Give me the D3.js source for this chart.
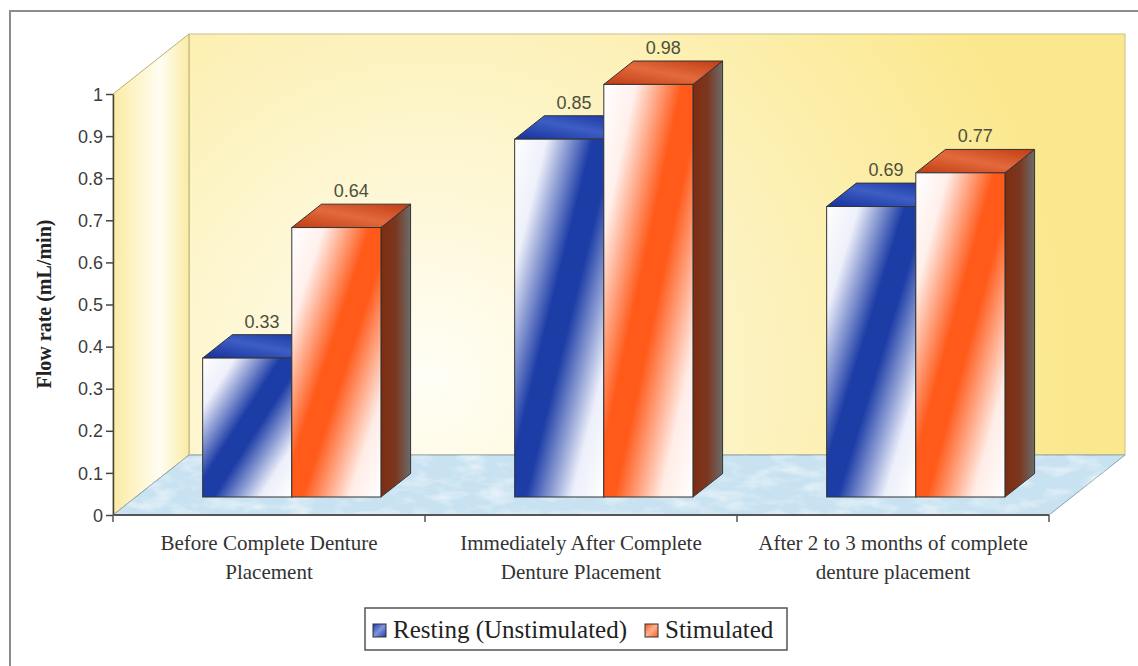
<!DOCTYPE html>
<html>
<head>
<meta charset="utf-8">
<script src="https://cdn.jsdelivr.net/npm/d3@7"></script>
<style>
  html, body { margin: 0; padding: 0; background: #ffffff; }
  svg { display: block; }
</style>
</head>
<body>
<svg id="chart" width="1138" height="666"></svg>
<script>
// Salivary flow rate by stage of complete denture wear
const categories = [
  ["Before Complete Denture", "Placement"],
  ["Immediately After Complete", "Denture Placement"],
  ["After 2 to 3 months of complete", "denture placement"]
];
const seriesNames = ["Resting (Unstimulated)", "Stimulated"];
const resting    = [0.33, 0.85, 0.69];
const stimulated = [0.64, 0.98, 0.77];
const yTicks = [0, 0.1, 0.2, 0.3, 0.4, 0.5, 0.6, 0.7, 0.8, 0.9, 1];
const yTitle = "Flow rate (mL/min)";

const svg = d3.select("#chart");
const defs = svg.append("defs");

// plot frame (front plane) and 3D depth vector
const plotLeft = 113, plotRight = 1049, plotTop = 94, plotBottom = 515;
const depth = { dx: 76, dy: -60 };
const barDepth0 = 0.30, barDepth1 = 0.69;

const x0 = d3.scaleBand().domain(d3.range(categories.length)).range([plotLeft, plotRight]).padding(0);
const barW = x0.bandwidth() / 3.5; // gap width 150%
const x1 = d3.scaleBand().domain(seriesNames).range([0.75 * barW, 2.75 * barW]).padding(0);
const y = d3.scaleLinear().domain([0, 1]).range([plotBottom, plotTop]);

// ---------- gradients ----------
function linGrad(id, stops, attrs) {
  const g = defs.append("linearGradient").attr("id", id);
  Object.entries(attrs).forEach(([k, v]) => g.attr(k, v));
  stops.forEach(([o, c]) => g.append("stop").attr("offset", o).attr("stop-color", c));
}
linGrad("frontBlue", [[0, "#ffffff"], [0.18, "#eef0fa"], [0.44, "#1c3ca6"], [0.56, "#1c3ca6"], [0.82, "#eceffa"], [1, "#ffffff"]],
  { x1: 0, y1: 0, x2: 1, y2: 1 });
linGrad("frontRed", [[0, "#ffffff"], [0.18, "#fff0ec"], [0.44, "#ff5a1a"], [0.56, "#ff5a1a"], [0.82, "#ffece6"], [1, "#ffffff"]],
  { x1: 0, y1: 0, x2: 1, y2: 1 });
linGrad("topBlue", [[0, "#15309a"], [0.5, "#3d5ec4"], [1, "#15309a"]], { x1: 0, y1: 1, x2: 1, y2: 0 });
linGrad("topRed", [[0, "#c03c12"], [0.5, "#e36a3c"], [1, "#c03c12"]], { x1: 0, y1: 1, x2: 1, y2: 0 });
linGrad("sideBlue", [[0, "#12266e"], [1, "#5a5a6a"]], { x1: 0, y1: 0, x2: 1, y2: 0 });
linGrad("sideRed", [[0, "#7e2c10"], [0.5, "#7a3820"], [1, "#6c6c6c"]], { x1: 0, y1: 0, x2: 1, y2: 0 });
linGrad("sideWall", [[0, "#fbeba4"], [0.62, "#fffdf2"], [1, "#fbeba4"]],
  { gradientUnits: "userSpaceOnUse", x1: plotLeft, y1: 0, x2: plotLeft + depth.dx, y2: 0 });
linGrad("swBlue", [[0, "#1c3ca6"], [0.5, "#7f95dc"], [1, "#1c3ca6"]], { x1: 0, y1: 0, x2: 1, y2: 1 });
linGrad("swRed", [[0, "#ff5a1a"], [0.5, "#ffb090"], [1, "#ff5a1a"]], { x1: 0, y1: 0, x2: 1, y2: 1 });

const rg = defs.append("radialGradient").attr("id", "backWall")
  .attr("gradientUnits", "userSpaceOnUse").attr("cx", 430).attr("cy", 380).attr("r", 640);
[[0, "#fffef6"], [0.45, "#fdf4c6"], [1, "#fbe88e"]]
  .forEach(([o, c]) => rg.append("stop").attr("offset", o).attr("stop-color", c));

const tex = defs.append("filter").attr("id", "floorTex").attr("x", 0).attr("y", 0).attr("width", 1).attr("height", 1);
tex.append("feTurbulence").attr("type", "fractalNoise").attr("baseFrequency", "0.035 0.09").attr("numOctaves", 3).attr("seed", 7);
tex.append("feColorMatrix").attr("type", "matrix")
  .attr("values", "0 0 0 0 1  0 0 0 0 1  0 0 0 0 1  0 0 0 2.2 -0.95");
tex.append("feComposite").attr("in2", "SourceGraphic").attr("operator", "in");

// ---------- outer frame ----------
svg.append("path").attr("d", "M10,666 V11 H1138").attr("fill", "none")
  .attr("stroke", "#8c8c8c").attr("stroke-width", 2);

// ---------- walls & floor ----------
const pts = a => a.map(p => p.join(",")).join(" ");
const bx = plotLeft + depth.dx, byTop = plotTop + depth.dy, byBot = plotBottom + depth.dy;

svg.append("rect").attr("x", bx).attr("y", byTop).attr("width", plotRight - plotLeft).attr("height", plotBottom - plotTop)
  .attr("fill", "url(#backWall)").attr("stroke", "#c9c08a").attr("stroke-width", 1);

svg.append("polygon")
  .attr("points", pts([[plotLeft, plotBottom], [plotLeft, plotTop], [bx, byTop], [bx, byBot]]))
  .attr("fill", "url(#sideWall)").attr("stroke", "#b8af78").attr("stroke-width", 1);

const floorPts = pts([[plotLeft, plotBottom], [plotRight, plotBottom], [plotRight + depth.dx, byBot], [bx, byBot]]);
svg.append("polygon").attr("points", floorPts).attr("fill", "#c8e2f1").attr("stroke", "#8aa0aa").attr("stroke-width", 1);
svg.append("polygon").attr("points", floorPts).attr("fill", "#000").attr("filter", "url(#floorTex)").attr("opacity", 0.55);

// ---------- axes ----------
const yAxis = svg.append("g").attr("transform", `translate(${plotLeft},0)`)
  .call(d3.axisLeft(y).tickValues(yTicks).tickSize(7).tickSizeOuter(0).tickFormat(d3.format("")));
yAxis.select(".domain").attr("stroke", "#444").attr("stroke-width", 1.5);
yAxis.selectAll(".tick line").attr("stroke", "#444").attr("stroke-width", 1.5);
yAxis.selectAll(".tick text").attr("x", -10).attr("dy", "0.34em")
  .attr("font-family", "'Liberation Sans', Arial, sans-serif").attr("font-size", 18).attr("fill", "#3c3c3c");

svg.append("line").attr("x1", plotLeft).attr("x2", plotRight).attr("y1", plotBottom).attr("y2", plotBottom)
  .attr("stroke", "#555").attr("stroke-width", 2);
const catEdges = d3.range(categories.length + 1).map(i => plotLeft + i * x0.step());
svg.selectAll("line.cattick").data(catEdges).join("line").attr("class", "cattick")
  .attr("x1", d => d).attr("x2", d => d).attr("y1", plotBottom).attr("y2", plotBottom + 7)
  .attr("stroke", "#555").attr("stroke-width", 1.5);

// category labels
categories.forEach((lines, i) => {
  const t = svg.append("text").attr("text-anchor", "middle")
    .attr("font-family", "'Liberation Serif', 'Times New Roman', serif").attr("font-size", 21).attr("fill", "#333");
  lines.forEach((ln, k) => t.append("tspan").attr("x", x0(i) + x0.bandwidth() / 2).attr("y", 550 + k * 29).text(ln));
});

// y title
svg.append("text").attr("transform", "translate(51,304) rotate(-90)").attr("text-anchor", "middle")
  .attr("font-family", "'Liberation Serif', 'Times New Roman', serif").attr("font-weight", "bold")
  .attr("font-size", 20).attr("fill", "#222").text(yTitle);

// ---------- 3D bars ----------
const data = [];
categories.forEach((c, i) => {
  data.push({ cat: i, s: seriesNames[0], v: resting[i], key: "Blue" });
  data.push({ cat: i, s: seriesNames[1], v: stimulated[i], key: "Red" });
});
const off0 = { dx: depth.dx * barDepth0, dy: depth.dy * barDepth0 };
const dd = { dx: depth.dx * (barDepth1 - barDepth0), dy: depth.dy * (barDepth1 - barDepth0) };

const bars = svg.append("g").selectAll("g.bar").data(data).join("g").attr("class", "bar");
bars.each(function (d) {
  const g = d3.select(this);
  const xl = x0(d.cat) + x1(d.s) + off0.dx, xr = xl + x1.bandwidth();
  const yt = y(d.v) + off0.dy, yb = y(0) + off0.dy;
  g.append("polygon").attr("points", pts([[xr, yb], [xr, yt], [xr + dd.dx, yt + dd.dy], [xr + dd.dx, yb + dd.dy]]))
    .attr("fill", `url(#side${d.key})`).attr("stroke", "#333").attr("stroke-width", 1);
  g.append("polygon").attr("points", pts([[xl, yt], [xr, yt], [xr + dd.dx, yt + dd.dy], [xl + dd.dx, yt + dd.dy]]))
    .attr("fill", `url(#top${d.key})`).attr("stroke", "#333").attr("stroke-width", 1);
  g.append("rect").attr("x", xl).attr("y", yt).attr("width", xr - xl).attr("height", yb - yt)
    .attr("fill", `url(#front${d.key})`).attr("stroke", "#333").attr("stroke-width", 1);
});

// value labels
svg.append("g").selectAll("text").data(data).join("text")
  .attr("text-anchor", "middle")
  .attr("x", d => x0(d.cat) + x1(d.s) + off0.dx + x1.bandwidth() / 2 + dd.dx / 2)
  .attr("y", d => y(d.v) + off0.dy + dd.dy - 7)
  .attr("font-family", "'Liberation Sans', Arial, sans-serif").attr("font-size", 18).attr("fill", "#4c4f3a")
  .text(d => d3.format(".2f")(d.v));

// ---------- legend ----------
const lg = svg.append("g");
lg.append("rect").attr("x", 365).attr("y", 608).attr("width", 422).attr("height", 42)
  .attr("fill", "#fff").attr("stroke", "#555").attr("stroke-width", 1.5);
const legendItems = [
  { name: seriesNames[0], key: "Blue", x: 373 },
  { name: seriesNames[1], key: "Red", x: 645 }
];
legendItems.forEach(it => {
  lg.append("rect").attr("x", it.x).attr("y", 624).attr("width", 13).attr("height", 13)
    .attr("fill", `url(#sw${it.key})`).attr("stroke", "#333").attr("stroke-width", 1);
  lg.append("text").attr("x", it.x + 20).attr("y", 638)
    .attr("font-family", "'Liberation Serif', 'Times New Roman', serif").attr("font-size", 25).attr("fill", "#222")
    .text(it.name);
});
</script>
</body>
</html>
